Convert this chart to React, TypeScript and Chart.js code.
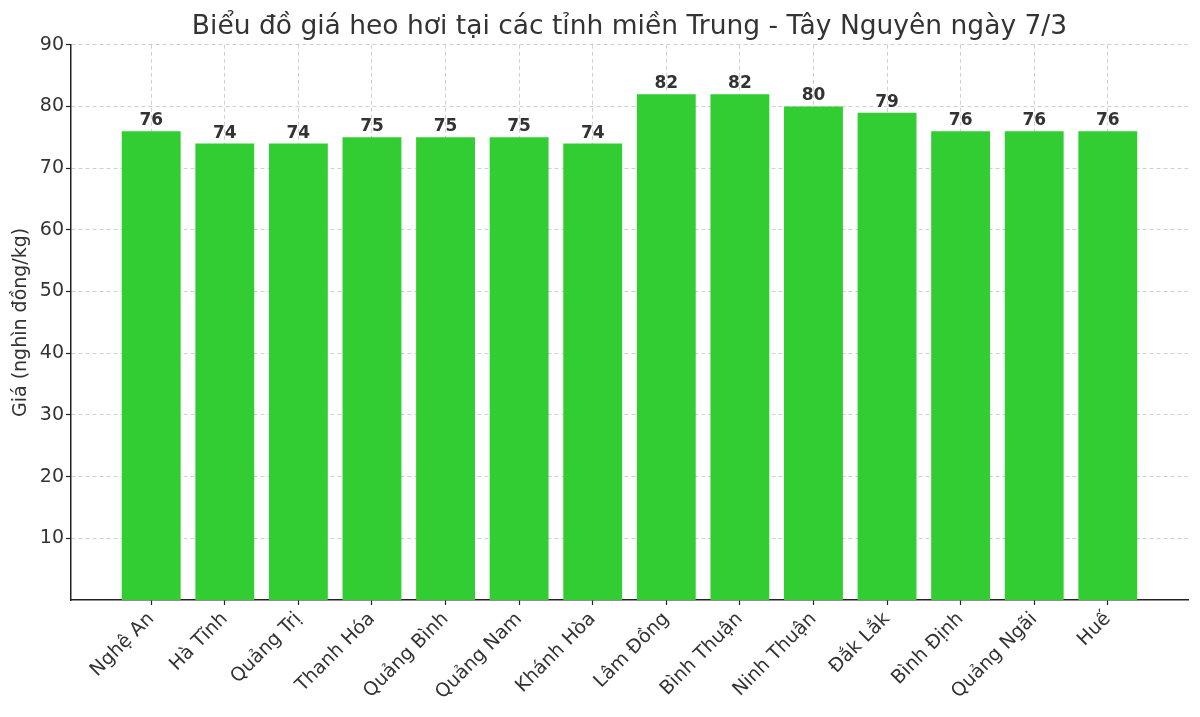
import React, { useEffect, useRef } from 'react';
import { Chart, registerables } from 'chart.js';

Chart.register(...registerables);

// dữ liệu
const provinces = [
  'Nghệ An', 'Hà Tĩnh', 'Quảng Trị', 'Thanh Hóa', 'Quảng Bình', 'Quảng Nam', 'Khánh Hòa',
  'Lâm Đồng', 'Bình Thuận', 'Ninh Thuận', 'Đắk Lắk', 'Bình Định', 'Quảng Ngãi', 'Huế'
];
const prices = [76, 74, 74, 75, 75, 75, 74, 82, 82, 80, 79, 76, 76, 76];
const yTicks = [10, 20, 30, 40, 50, 60, 70, 80, 90];

const FONT = "'DejaVu Sans', sans-serif";
const TEXT = '#333333';
const GRID = 'rgba(176,176,176,0.6)';

// nhãn giá trị trên cột
const valueLabels = {
  id: 'valueLabels',
  afterDatasetsDraw(chart: Chart) {
    const ctx = chart.ctx;
    const meta = chart.getDatasetMeta(0);
    ctx.save();
    ctx.font = `bold 17px ${FONT}`;
    ctx.fillStyle = TEXT;
    ctx.textAlign = 'center';
    ctx.textBaseline = 'alphabetic';
    meta.data.forEach((el: any, i: number) => {
      ctx.fillText(String(prices[i]), el.x, el.y - 6);
    });
    ctx.restore();
  }
};

const gridOpts = {
  color: GRID,
  lineWidth: 1,
  offset: false,
  drawTicks: true,
  tickLength: 5,
  tickColor: '#222',
  tickWidth: 1.2
};

const App: React.FC = () => {
  const canvasRef = useRef<HTMLCanvasElement | null>(null);

  useEffect(() => {
    if (!canvasRef.current) return;
    const chart = new Chart(canvasRef.current, {
      type: 'bar',
      data: {
        datasets: [{
          data: provinces.map((_, i) => ({ x: i, y: prices[i] })),
          backgroundColor: '#32CD32',
          borderWidth: 0,
          barPercentage: 0.8,
          categoryPercentage: 1
        }]
      },
      options: {
        animation: false,
        responsive: true,
        maintainAspectRatio: false,
        layout: { padding: { left: 0, right: 12, top: 0, bottom: 0 } },
        scales: {
          x: {
            type: 'linear',
            min: -1.09,
            max: 14.09,
            offset: false,
            z: 1,
            afterBuildTicks: (scale: any) => {
              scale.ticks = provinces.map((_, i) => ({ value: i }));
            },
            afterFit: (scale: any) => { scale.height = 117; },
            ticks: {
              autoSkip: false,
              minRotation: 45,
              maxRotation: 45,
              padding: 3,
              color: TEXT,
              font: { family: FONT, size: 19 },
              callback: (v: any) => provinces[v] ?? ''
            },
            grid: gridOpts,
            border: { display: true, color: '#222', width: 1.5, dash: [4, 3] }
          },
          y: {
            min: 0,
            max: 90,
            z: 1,
            afterBuildTicks: (scale: any) => {
              scale.ticks = yTicks.map(v => ({ value: v }));
            },
            afterFit: (scale: any) => { scale.width = 71; },
            ticks: {
              padding: 2,
              color: TEXT,
              font: { family: FONT, size: 19 }
            },
            grid: gridOpts,
            border: { display: true, color: '#222', width: 1.5, dash: [4, 3] },
            title: {
              display: true,
              text: 'Giá (nghìn đồng/kg)',
              color: TEXT,
              font: { family: FONT, size: 19 },
              padding: { top: 10, bottom: 0 }
            }
          }
        },
        plugins: {
          legend: { display: false },
          tooltip: { enabled: false },
          title: {
            display: true,
            fullSize: false,
            text: 'Biểu đồ giá heo hơi tại các tỉnh miền Trung - Tây Nguyên ngày 7/3',
            color: TEXT,
            font: { family: FONT, size: 26.5, weight: 'normal' },
            padding: { top: 11, bottom: 2 }
          }
        }
      },
      plugins: [valueLabels]
    });
    return () => chart.destroy();
  }, []);

  return (
    <div style={{ position: 'fixed', left: 0, top: 0, width: 1200, height: 717, background: '#fff' }}>
      <canvas ref={canvasRef} />
    </div>
  );
};

export default App;
